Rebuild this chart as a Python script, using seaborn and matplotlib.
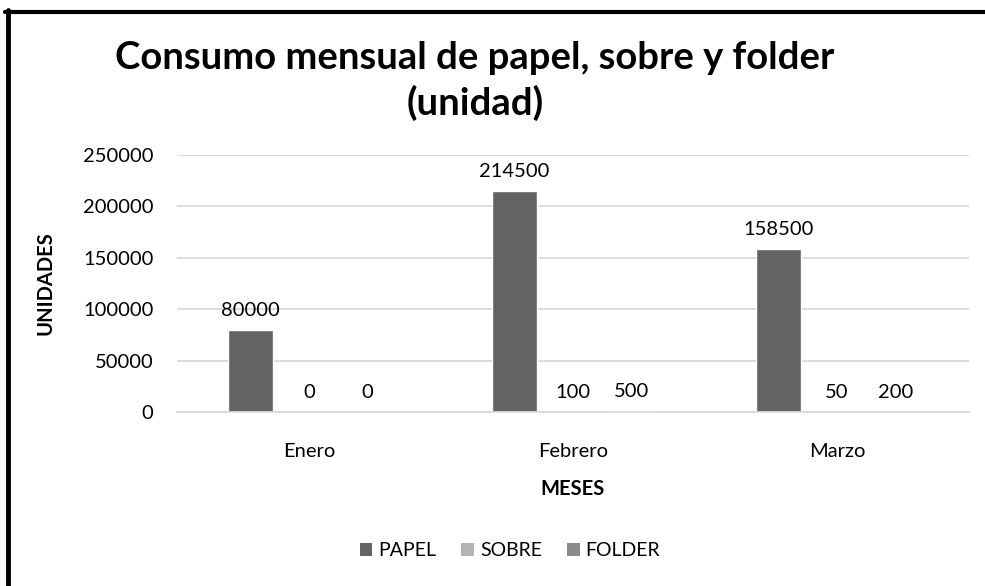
import matplotlib
matplotlib.use("Agg")
import matplotlib.pyplot as plt
from matplotlib.lines import Line2D
from matplotlib.patches import Patch
import seaborn as sns
import pandas as pd

months = ["Enero", "Febrero", "Marzo"]
series = ["PAPEL", "SOBRE", "FOLDER"]
papel = [80000, 214500, 158500]
sobre = [0, 100, 50]
folder = [0, 500, 200]
colors = ["#636363", "#b3b3b3", "#8a8a8a"]
yticks = [0, 50000, 100000, 150000, 200000, 250000]

rows = []
for name, vals in zip(series, [papel, sobre, folder]):
    for m, v in zip(months, vals):
        rows.append({"mes": m, "serie": name, "valor": v})
df = pd.DataFrame(rows)

sns.set_theme(style="white")
plt.rcParams['font.family'] = ['Lato', 'DejaVu Sans']
plt.rcParams['text.color'] = 'black'

fig = plt.figure(figsize=(9.85, 5.86), dpi=100)
ax = fig.add_axes([177/985, 1-412/586, (969-177)/985, (412-155)/586])

sns.barplot(data=df, x="mes", y="valor", hue="serie", order=months,
            hue_order=series, palette=colors, width=0.665, gap=0.22,
            ax=ax, legend=False, saturation=1, errorbar=None)

ax.set_ylim(0, 250000)
ax.set_yticks(yticks)
ax.set_yticklabels([str(t) for t in yticks], fontsize=14.5, color="#000000")
ax.tick_params(axis="x", labelsize=14.5, colors="#000000", length=0, pad=22)
ax.tick_params(axis="y", length=0, pad=17)
ax.yaxis.grid(True, color="#d9d9d9", linewidth=1.3)
ax.set_axisbelow(True)
for s in ["top", "right", "left"]:
    ax.spines[s].set_visible(False)
ax.spines["bottom"].set_color("#d9d9d9")
ax.spines["bottom"].set_linewidth(1.3)

for cont in ax.containers:
    ax.bar_label(cont, labels=[str(int(v)) for v in cont.datavalues],
                 fontsize=14.5, padding=8, color="#000000")

ax.set_xlabel("MESES", fontsize=14.5, fontweight="bold", labelpad=14, color="black")
ax.set_ylabel("UNIDADES", fontsize=14.5, fontweight="bold", labelpad=20, color="black")

fig.text(475/985, 1-81/586, "Consumo mensual de papel, sobre y folder\n(unidad)",
         ha="center", va="center", fontsize=27.5, fontweight="bold",
         linespacing=1.3, color="black")

handles = [Patch(facecolor=c, edgecolor="none") for c in colors]
fig.legend(handles, series, loc="center", bbox_to_anchor=(510/985, 1-551/586),
           ncol=3, frameon=False, fontsize=14, handlelength=0.65,
           handleheight=0.65, handletextpad=0.3, columnspacing=1.3,
           labelcolor="black")

fig.add_artist(Line2D([5/985, 1], [1-11.5/586, 1-11.5/586], color="black",
                      linewidth=3, transform=fig.transFigure))
fig.add_artist(Line2D([7.5/985, 7.5/985], [0, 1-10/586], color="black",
                      linewidth=3.5, transform=fig.transFigure))

fig.savefig("out.png", dpi=100, facecolor="white")
